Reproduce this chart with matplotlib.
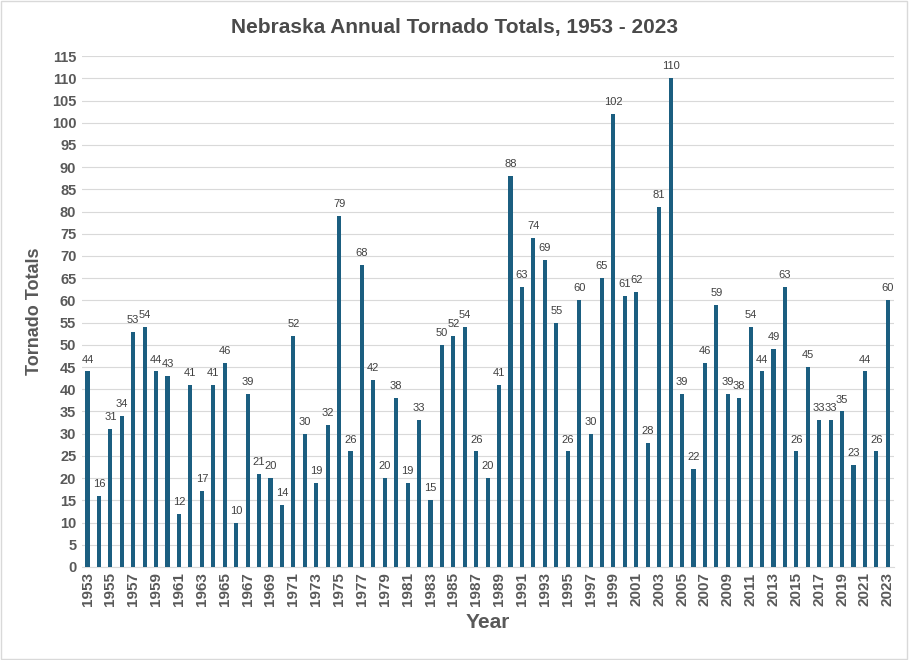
import matplotlib.pyplot as plt
from matplotlib.patches import Rectangle
import numpy as np

years = list(range(1953, 2024))
totals = [44, 16, 31, 34, 53, 54, 44, 43, 12, 41, 17, 41, 46, 10, 39, 21, 20, 14,
          52, 30, 19, 32, 79, 26, 68, 42, 20, 38, 19, 33, 15, 50, 52, 54, 26, 20,
          41, 88, 63, 74, 69, 55, 26, 60, 30, 65, 102, 61, 62, 28, 81, 110, 39, 22,
          46, 59, 39, 38, 54, 44, 49, 63, 26, 45, 33, 33, 35, 23, 44, 26, 60]

bar_color = '#1b5e80'
grey = '#595959'
fam = ['Liberation Sans', 'DejaVu Sans']

fig = plt.figure(figsize=(9.09, 6.60), dpi=100)
ax = fig.add_axes([0.090, 0.141, 0.893, 0.774])

x = np.arange(len(years))
ax.bar(x, totals, width=0.36, color=bar_color, zorder=3)

for xi, v in zip(x, totals):
    ax.annotate(str(v), (xi, v), xytext=(0, 5), textcoords='offset points',
                ha='center', va='bottom', fontsize=8, color='#404040', family=fam)

ax.set_xlim(-0.5, len(years) - 0.5)
ax.set_ylim(0, 115)
ax.set_yticks(range(0, 116, 5))
ax.yaxis.grid(True, color='#d9d9d9', linewidth=0.8, zorder=0)
ax.set_xticks(x[::2])
ax.set_xticklabels([str(y) for y in years[::2]], rotation=90)
for lab in ax.get_xticklabels() + ax.get_yticklabels():
    lab.set_family(fam)
    lab.set_fontweight('bold')
    lab.set_fontsize(10.5)
    lab.set_color(grey)
for lab in ax.get_xticklabels():
    lab.set_fontsize(11)
ax.tick_params(length=0, pad=4)
for s in ['top', 'right', 'left']:
    ax.spines[s].set_visible(False)
ax.spines['bottom'].set_color('#d9d9d9')

ax.set_ylabel('Tornado Totals', fontsize=13, fontweight='bold', color=grey,
              family=fam, labelpad=6)
ax.set_xlabel('Year', fontsize=15, fontweight='bold', color=grey,
              family=fam, labelpad=5)
fig.suptitle('Nebraska Annual Tornado Totals, 1953 - 2023', y=0.972,
             fontsize=15, fontweight='bold', color='#4a4a4a', family=fam)

fig.patches.append(Rectangle((0.001, 0.002), 0.997, 0.996, transform=fig.transFigure,
                             fill=False, edgecolor='#d9d9d9', linewidth=1))

plt.savefig('out.png', dpi=100)
